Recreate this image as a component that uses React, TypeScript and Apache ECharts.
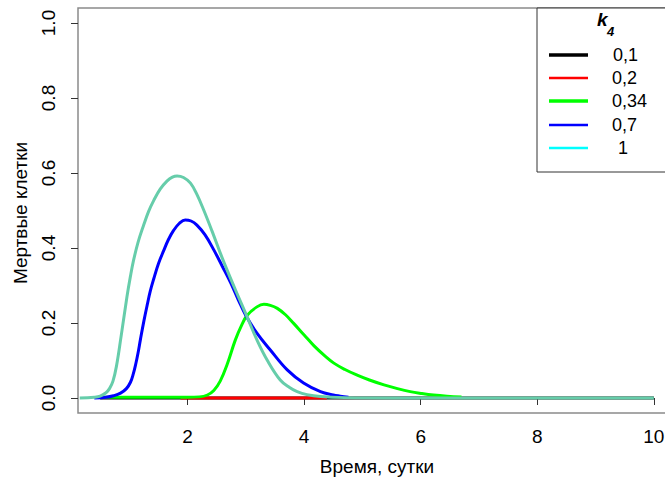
import React, { useEffect, useRef } from "react";
import * as echarts from "echarts";

// ---- data ----
const xTicks = [2, 4, 6, 8, 10];
const yTicks = [0, 0.2, 0.4, 0.6, 0.8, 1.0];

const legendTitle = "k";
const legendSub = "4";
const seriesNames = ["0,1", "0,2", "0,34", "0,7", "1"];
const lineColors = ["#000000", "#FF0000", "#00FF00", "#0000FF", "#66CDAA"];
const legendColors = ["#000000", "#FF0000", "#00FF00", "#0000FF", "#00FFFF"];

const k01: [number, number][] = [
  [0.5, 0], [2, 0], [4, 0], [6, 0], [10, 0],
];
const k02: [number, number][] = [
  [1.88, 0], [3, 0], [4.39, 0],
];
const k034: [number, number][] = [
  [0.5, 0.002], [1.5, 0.002], [2.0, 0.002], [2.2, 0.003], [2.34, 0.008],
  [2.45, 0.02], [2.56, 0.045], [2.68, 0.09], [2.82, 0.155], [2.93, 0.195],
  [3.02, 0.22], [3.19, 0.243], [3.31, 0.25], [3.42, 0.247], [3.54, 0.239],
  [3.68, 0.222], [3.82, 0.199], [4.0, 0.168], [4.17, 0.139], [4.35, 0.113],
  [4.51, 0.093], [4.7, 0.076], [4.91, 0.061], [5.12, 0.048], [5.37, 0.035],
  [5.6, 0.025], [5.82, 0.017], [6.02, 0.012], [6.22, 0.008], [6.45, 0.005],
  [6.7, 0.003],
];
const k07: [number, number][] = [
  [0.4, 0], [0.6, 0.002], [0.73, 0.006], [0.85, 0.013], [0.95, 0.025],
  [1.02, 0.042], [1.07, 0.065], [1.11, 0.09], [1.15, 0.12], [1.19, 0.155],
  [1.25, 0.205], [1.31, 0.25], [1.36, 0.285], [1.42, 0.318], [1.5, 0.358],
  [1.59, 0.393], [1.67, 0.422], [1.76, 0.447], [1.86, 0.466], [1.96, 0.475],
  [2.06, 0.472], [2.16, 0.461], [2.3, 0.435], [2.45, 0.395], [2.6, 0.35],
  [2.74, 0.307], [2.87, 0.262], [3.0, 0.22], [3.19, 0.173], [3.42, 0.128],
  [3.71, 0.075], [3.99, 0.04], [4.28, 0.017], [4.5, 0.008], [4.62, 0.005],
  [4.76, 0.002],
];
const k1: [number, number][] = [
  [0.15, 0], [0.4, 0.002], [0.5, 0.005], [0.6, 0.014], [0.66, 0.025],
  [0.72, 0.045], [0.78, 0.085], [0.86, 0.165], [0.96, 0.27], [1.02, 0.325],
  [1.07, 0.365], [1.15, 0.415], [1.24, 0.458], [1.33, 0.497], [1.42, 0.527],
  [1.53, 0.557], [1.65, 0.579], [1.74, 0.589], [1.82, 0.592], [1.93, 0.588],
  [2.05, 0.573], [2.16, 0.543], [2.28, 0.5], [2.42, 0.445], [2.56, 0.387],
  [2.7, 0.333], [2.85, 0.278], [3.02, 0.217], [3.19, 0.155], [3.37, 0.1],
  [3.59, 0.048], [3.75, 0.028], [3.88, 0.017], [4.05, 0.009], [4.28, 0.004],
  [4.7, 0.001], [5.5, 0], [10, 0],
];
const seriesData = [k01, k02, k034, k07, k1];

const FONT = "'Liberation Sans', Arial, sans-serif";

export default function App() {
  const ref = useRef<HTMLDivElement>(null);
  useEffect(() => {
    if (!ref.current) return;
    const chart = echarts.init(ref.current, undefined, { renderer: "svg" });

    const rowY = [55, 78, 101, 125, 148];
    const labelNudge = [1, 0, 0, 0, 6];

    const legendChildren: any[] = [
      {
        type: "rect",
        shape: { x: 537, y: 8, width: 160, height: 164 },
        style: { fill: "#ffffff", stroke: "#333333", lineWidth: 1 },
      },
      {
        type: "text",
        x: 597,
        y: 29,
        style: {
          text: legendTitle,
          font: `italic bold 19px ${FONT}`,
          fill: "#000",
          align: "left",
          verticalAlign: "bottom",
        },
      },
      {
        type: "text",
        x: 607,
        y: 38,
        style: {
          text: legendSub,
          font: `italic bold 13px ${FONT}`,
          fill: "#000",
          align: "left",
          verticalAlign: "bottom",
        },
      },
    ];
    const legendWidths = [3.5, 2.3, 3.3, 2.7, 2.3];
    seriesNames.forEach((name, i) => {
      legendChildren.push({
        type: "line",
        shape: { x1: 549, y1: rowY[i], x2: 588, y2: rowY[i] },
        style: { stroke: legendColors[i], lineWidth: legendWidths[i] },
      });
      legendChildren.push({
        type: "text",
        x: 612 + labelNudge[i],
        y: rowY[i],
        style: {
          text: name,
          font: `18px ${FONT}`,
          fill: "#000",
          align: "left",
          verticalAlign: "middle",
        },
      });
    });

    const option: any = {
      animation: false,
      backgroundColor: "#ffffff",
      grid: {
        left: 78,
        top: 8,
        width: 598,
        height: 405,
        show: true,
        borderColor: "#8a8a8a",
        borderWidth: 1.5,
        backgroundColor: "transparent",
        containLabel: false,
        outerBoundsMode: "none",
      },
      xAxis: {
        type: "value",
        min: 0.12,
        max: 10.38,
        name: "Время, сутки",
        nameLocation: "middle",
        nameGap: 44,
        nameTextStyle: { fontSize: 19, fontFamily: FONT, color: "#000" },
        axisLine: { show: false },
        axisTick: {
          show: true,
          length: 7,
          customValues: xTicks,
          lineStyle: { color: "#333", width: 1 },
        },
        axisLabel: {
          customValues: xTicks,
          fontSize: 19,
          fontFamily: FONT,
          color: "#000",
          margin: 14,
          formatter: (v: number) => String(v),
        },
        splitLine: { show: false },
      },
      yAxis: {
        type: "value",
        min: -0.04,
        max: 1.04,
        axisLine: { show: false },
        axisTick: {
          show: true,
          length: 7,
          customValues: yTicks,
          lineStyle: { color: "#333", width: 1 },
        },
        axisLabel: {
          customValues: yTicks,
          rotate: 90,
          fontSize: 19,
          fontFamily: FONT,
          color: "#000",
          margin: 20,
          formatter: (v: number) => v.toFixed(1),
        },
        splitLine: { show: false },
      },
      series: seriesData.map((d, i) => ({
        type: "line",
        name: seriesNames[i],
        data: d,
        showSymbol: false,
        symbol: "none",
        smooth: 0.4,
        clip: true,
        lineStyle: { color: lineColors[i], width: 3 },
        z: 2 + i,
      })),
      graphic: [
        {
          type: "text",
          x: 20,
          y: 213,
          rotation: Math.PI / 2,
          style: {
            text: "Мертвые клетки",
            font: `19px ${FONT}`,
            fill: "#000",
            align: "center",
            verticalAlign: "middle",
          },
        },
        { type: "group", z: 100, children: legendChildren },
      ],
    };
    chart.setOption(option);
    return () => chart.dispose();
  }, []);

  return (
    <div
      ref={ref}
      style={{ position: "fixed", left: 0, top: 0, width: 665, height: 485 }}
    />
  );
}
